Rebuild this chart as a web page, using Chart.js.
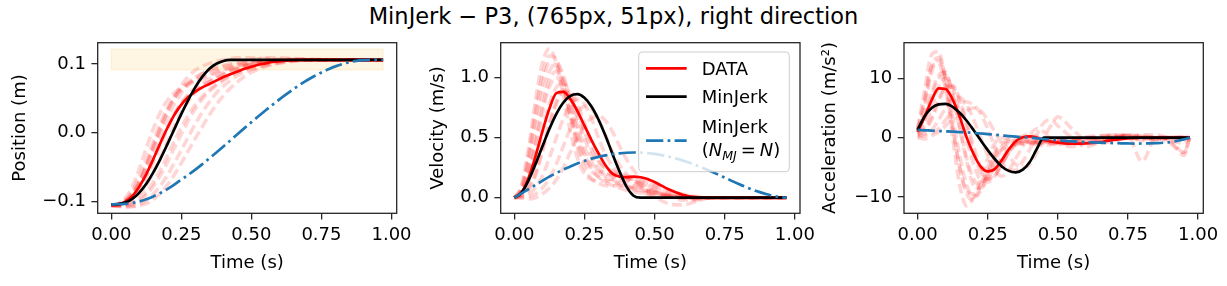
<!DOCTYPE html>
<html><head><meta charset="utf-8">
<script src="https://cdn.jsdelivr.net/npm/chart.js@4.4.1/dist/chart.umd.min.js"></script>
<style>
html,body{margin:0;padding:0;background:#fff;}
#wrap{position:relative;width:1227px;height:286px;overflow:hidden;background:#fff;}
#title{position:absolute;left:0;top:5px;width:1227px;text-align:center;font-family:'DejaVu Sans',sans-serif;font-size:22.5px;line-height:22px;color:#000;white-space:nowrap;}
canvas{position:absolute;}
</style></head><body>
<div id="wrap">
<div id="title">MinJerk − P3, (765px, 51px), right direction</div>
<canvas id="c1" width="420" height="256" style="left:0;top:30px"></canvas>
<canvas id="c2" width="410" height="256" style="left:415px;top:30px"></canvas>
<canvas id="c3" width="412" height="256" style="left:815px;top:30px"></canvas>
</div>
<script>
// ---------- data ----------
const t = [0,0.025,0.05,0.075,0.1,0.125,0.15,0.175,0.2,0.225,0.25,0.275,0.3,0.325,0.35,0.375,0.4,0.425,0.45,0.475,0.5,0.525,0.55,0.575,0.6,0.625,0.65,0.675,0.7,0.725,0.75,0.775,0.8,0.825,0.85,0.875,0.9,0.925,0.95,0.97];
const t2 = [0,0.025,0.05,0.075,0.1,0.125,0.15,0.175,0.2,0.225,0.25,0.275,0.3,0.325,0.35,0.375,0.4,0.425,0.45,0.475,0.5,0.55,0.6,0.65,0.7,0.75,0.8,0.85,0.9,0.95,0.97];

const xTicks = [0, 0.25, 0.5, 0.75, 1.0];
const posTicks = [-0.1, 0.0, 0.1];
const velTicks = [0.0, 0.5, 1.0];
const accTicks = [-10, 0, 10];

const targetBand = [0.0915, 0.1217];
const bandTime = [0, 0.97];

const posData = [-0.105,-0.104,-0.1,-0.092,-0.078,-0.06,-0.038,-0.015,0.007,0.026,0.041,0.052,0.06,0.066,0.071,0.076,0.081,0.085,0.089,0.093,0.096,0.099,0.101,0.103,0.104,0.105,0.1055,0.106,0.106,0.106,0.106,0.106,0.106,0.106,0.106,0.106,0.106,0.106,0.106,0.106];
const posMJ = [-0.104,-0.1036,-0.1014,-0.0961,-0.087,-0.074,-0.0575,-0.0382,-0.0168,0.0054,0.0275,0.048,0.0664,0.0816,0.0932,0.1004,0.1045,0.1059,0.106,0.106,0.106,0.106,0.106,0.106,0.106,0.106,0.106,0.106,0.106,0.106,0.106,0.106,0.106,0.106,0.106,0.106,0.106,0.106,0.106,0.106];
const posMJN = [-0.104,-0.1038,-0.1032,-0.102,-0.0998,-0.0966,-0.0925,-0.0875,-0.0818,-0.0752,-0.068,-0.061,-0.0535,-0.0455,-0.037,-0.0285,-0.0198,-0.011,-0.002,0.0068,0.0155,0.024,0.0324,0.0406,0.0486,0.0563,0.0636,0.0704,0.0768,0.0826,0.0878,0.0925,0.0966,0.1,0.1027,0.1046,0.1057,0.1062,0.1064,0.1064];

const velData = [0,0.04,0.16,0.34,0.55,0.74,0.87,0.88,0.82,0.72,0.6,0.48,0.37,0.27,0.2,0.175,0.17,0.175,0.17,0.155,0.13,0.1,0.07,0.045,0.025,0.012,0.005,0.002,0.001,0,0,0,0,0,0,0,0,0,0,0];
const velMJ = [0,0.04,0.14,0.276,0.4255,0.571,0.697,0.792,0.848,0.862,0.831,0.759,0.651,0.515,0.364,0.219,0.092,0.016,0,0,0,0,0,0,0,0,0,0,0,0,0,0,0,0,0,0,0,0,0,0];
const velMJN = [0,0.035,0.07,0.105,0.14,0.175,0.205,0.235,0.26,0.285,0.305,0.325,0.34,0.352,0.362,0.369,0.374,0.376,0.375,0.371,0.364,0.354,0.342,0.327,0.31,0.29,0.268,0.245,0.22,0.194,0.167,0.14,0.114,0.089,0.066,0.046,0.028,0.014,0.004,0];

const accData = [1.0,3.5,6.3,8.3,8.2,6.4,3.5,0,-2.8,-4.9,-5.7,-5.3,-3.8,-2.0,-0.6,0.05,0.2,0,-0.4,-0.65,-0.85,-0.95,-1.0,-1.0,-0.95,-0.87,-0.75,-0.55,-0.4,-0.25,-0.12,-0.05,0,0,0,0,0,0,0,0];
const accMJ = [1.3,3.6,5.0,5.6,5.7,5.2,4.2,2.85,1.25,-0.45,-2.1,-3.6,-4.85,-5.6,-5.85,-5.4,-4.1,-1.9,0,0,0,0,0,0,0,0,0,0,0,0,0,0,0,0,0,0,0,0,0,0];
const accMJN = [1.3,1.24,1.18,1.12,1.06,1.0,0.94,0.88,0.8,0.7,0.6,0.48,0.37,0.26,0.16,0.07,0,-0.11,-0.23,-0.35,-0.45,-0.55,-0.63,-0.7,-0.76,-0.8,-0.84,-0.88,-0.92,-0.95,-0.98,-1.0,-0.99,-0.96,-0.92,-0.86,-0.75,-0.55,-0.3,0];

// individual trials (faint dashed), sampled on t2
const posTrial1 = [-0.105,-0.103,-0.095,-0.078,-0.052,-0.022,0.006,0.03,0.047,0.058,0.066,0.072,0.077,0.081,0.085,0.089,0.092,0.095,0.098,0.1,0.102,0.104,0.105,0.106,0.106,0.106,0.106,0.106,0.106,0.106,0.106];
const posTrial2 = [-0.105,-0.104,-0.098,-0.085,-0.064,-0.038,-0.012,0.014,0.036,0.052,0.063,0.07,0.075,0.079,0.083,0.087,0.091,0.094,0.097,0.099,0.101,0.104,0.106,0.107,0.107,0.107,0.106,0.106,0.106,0.106,0.106];
const posTrial3 = [-0.106,-0.105,-0.1,-0.09,-0.073,-0.05,-0.025,-0.001,0.022,0.042,0.058,0.07,0.079,0.086,0.091,0.095,0.098,0.1,0.102,0.104,0.106,0.109,0.109,0.108,0.107,0.106,0.106,0.106,0.106,0.106,0.106];
const posTrial4 = [-0.105,-0.105,-0.102,-0.095,-0.082,-0.064,-0.042,-0.018,0.005,0.026,0.043,0.056,0.065,0.072,0.078,0.083,0.088,0.092,0.095,0.098,0.1,0.103,0.105,0.106,0.106,0.106,0.106,0.106,0.106,0.106,0.106];
const posTrial5 = [-0.106,-0.106,-0.104,-0.099,-0.09,-0.076,-0.058,-0.036,-0.013,0.01,0.03,0.046,0.058,0.067,0.074,0.08,0.085,0.089,0.093,0.096,0.099,0.103,0.105,0.106,0.106,0.106,0.106,0.106,0.106,0.106,0.106];
const posTrial6 = [-0.105,-0.106,-0.106,-0.104,-0.099,-0.09,-0.078,-0.062,-0.043,-0.022,-0.002,0.018,0.035,0.049,0.06,0.069,0.076,0.082,0.087,0.091,0.094,0.099,0.103,0.105,0.106,0.106,0.106,0.106,0.106,0.106,0.106];
const posTrial7 = [-0.106,-0.107,-0.108,-0.107,-0.104,-0.098,-0.089,-0.077,-0.062,-0.044,-0.025,-0.006,0.013,0.03,0.045,0.058,0.068,0.076,0.083,0.088,0.092,0.098,0.102,0.105,0.106,0.106,0.106,0.106,0.106,0.106,0.106];
const posTrial8 = [-0.105,-0.106,-0.107,-0.107,-0.106,-0.103,-0.097,-0.088,-0.076,-0.061,-0.044,-0.026,-0.008,0.009,0.026,0.041,0.054,0.065,0.074,0.082,0.088,0.096,0.101,0.104,0.106,0.106,0.106,0.106,0.106,0.106,0.106];
const posTrial9 = [-0.105,-0.104,-0.099,-0.088,-0.07,-0.046,-0.019,0.008,0.032,0.05,0.064,0.074,0.081,0.086,0.09,0.093,0.096,0.098,0.1,0.102,0.103,0.105,0.106,0.106,0.106,0.106,0.106,0.106,0.106,0.106,0.106];
const posTrial10 = [-0.105,-0.105,-0.101,-0.093,-0.079,-0.06,-0.037,-0.013,0.009,0.028,0.043,0.054,0.062,0.068,0.074,0.079,0.084,0.089,0.093,0.097,0.1,0.104,0.106,0.107,0.106,0.106,0.106,0.106,0.106,0.106,0.106];
const posTrial11 = [-0.106,-0.106,-0.105,-0.102,-0.096,-0.086,-0.072,-0.054,-0.033,-0.012,0.008,0.026,0.041,0.053,0.063,0.071,0.078,0.084,0.089,0.093,0.096,0.101,0.104,0.106,0.106,0.106,0.106,0.106,0.106,0.106,0.106];
const posTrial12 = [-0.105,-0.104,-0.1,-0.09,-0.072,-0.048,-0.022,0.005,0.03,0.052,0.069,0.082,0.091,0.097,0.101,0.104,0.106,0.108,0.109,0.109,0.109,0.108,0.107,0.106,0.106,0.106,0.106,0.106,0.106,0.106,0.106];

const velTrial1 = [0,0.1,0.4,0.8,1.12,1.24,1.12,0.85,0.55,0.33,0.2,0.15,0.14,0.14,0.13,0.11,0.09,0.07,0.05,0.03,0.02,0.005,0,0,0,0,0,0,0,0,0];
const velTrial2 = [0,0.07,0.3,0.65,0.95,1.12,1.1,0.92,0.68,0.45,0.3,0.22,0.18,0.16,0.15,0.14,0.12,0.1,0.08,0.06,0.04,0.015,0.005,0,0,0,0,0,0,0,0];
const velTrial3 = [0,0.05,0.2,0.45,0.75,0.98,1.05,0.98,0.8,0.6,0.42,0.3,0.22,0.18,0.15,0.12,0.1,0.08,0.06,0.05,0.04,0.02,0.01,0,0,0,0,0,0,0,0];
const velTrial4 = [0,0.03,0.12,0.3,0.55,0.78,0.92,0.95,0.85,0.68,0.5,0.35,0.25,0.2,0.18,0.17,0.15,0.12,0.09,0.06,0.04,0.01,0,0,0,0,0,0,0,0,0];
const velTrial5 = [0,0.02,0.06,0.18,0.38,0.6,0.78,0.88,0.88,0.78,0.62,0.45,0.32,0.23,0.18,0.16,0.15,0.14,0.12,0.1,0.07,0.03,0.01,0,0,0,0,0,0,0,0];
const velTrial6 = [0,0.01,0.03,0.08,0.18,0.33,0.5,0.66,0.78,0.82,0.78,0.66,0.5,0.36,0.26,0.2,0.17,0.15,0.13,0.1,0.07,0.02,-0.02,-0.01,0,0,0,0,0,0,0];
const velTrial7 = [0,0,0.01,0.03,0.08,0.16,0.28,0.43,0.58,0.7,0.76,0.74,0.65,0.52,0.38,0.27,0.2,0.15,0.1,0.05,0.01,-0.05,-0.06,-0.03,0,0,0,0,0,0,0];
const velTrial8 = [0,0,-0.01,0,0.03,0.08,0.15,0.25,0.38,0.5,0.6,0.66,0.68,0.64,0.55,0.43,0.32,0.23,0.17,0.13,0.1,0.05,0.01,0,0,0,0,0,0,0,0];
const velTrial9 = [0,0.08,0.35,0.72,1.02,1.18,1.15,0.95,0.68,0.42,0.25,0.16,0.12,0.1,0.1,0.1,0.09,0.08,0.07,0.06,0.05,0.02,0.005,0,0,0,0,0,0,0,0];
const velTrial10 = [0,0.04,0.18,0.42,0.7,0.92,1.0,0.9,0.7,0.5,0.35,0.26,0.22,0.21,0.2,0.19,0.17,0.14,0.11,0.08,0.05,0.02,0,-0.02,0,0,0,0,0,0,0];
const velTrial11 = [0,0.02,0.08,0.2,0.4,0.62,0.8,0.9,0.86,0.72,0.55,0.4,0.3,0.25,0.22,0.2,0.18,0.16,0.14,0.12,0.1,0.06,0.03,0.01,0,0,0,0,0,0,0];
const velTrial12 = [0,0.06,0.25,0.55,0.85,1.05,1.12,1.02,0.8,0.55,0.36,0.24,0.17,0.13,0.1,0.08,0.06,0.05,0.04,0.03,0.02,0.01,0,0,0,0,0,0,0,0,0];

const accTrial1 = [1.5,8,14,14.5,9,0,-8,-11.5,-10,-7,-3.5,-1,0,-0.2,-0.6,-1,-1,-0.8,-0.6,-0.5,-0.3,-0.1,0,0,0,0,0,0,0,0,0];
const accTrial2 = [1,5,11,13,10,3.5,-3,-8,-10,-9,-6,-3,-1.5,-0.6,-0.5,-0.6,-0.8,-0.8,-0.8,-0.7,-0.6,-0.3,0.1,0.3,0.2,0,-0.3,0,0,0,0];
const accTrial3 = [1.2,3.5,7.5,10.5,11,7,1.5,-4,-8,-8.5,-7,-5,-3.5,-2,-1.2,-1,-0.9,-0.8,-0.6,-0.5,-0.4,-0.3,-0.2,0.3,0.5,0.2,-0.2,0,0,0,0];
const accTrial4 = [0.8,2,5,8.5,10,8.5,4,-0.5,-4.5,-7,-7,-6,-4.5,-2.5,-1,0,0,-0.6,-1,-1,-0.9,-0.6,-0.3,0,0.5,0.3,-0.5,-0.3,0,0,0];
const accTrial5 = [0.5,1.2,3,6,8.5,8.8,6.5,2.5,-1.5,-5,-7,-6.5,-4.5,-2.5,-0.8,0.3,0.5,0.2,-0.6,-0.9,-1,-1.1,-0.7,-0.2,0.3,0.2,-4,0,0,0,0];
const accTrial6 = [0.3,0.6,1.2,3,5,6.5,6.8,5.5,3,0,-3,-5.5,-6.5,-5.5,-3.5,-1.5,0.5,1.5,1,-0.3,-1,-1.5,-1,-0.3,0.2,0.5,0.2,-0.2,-0.5,-2.5,0];
const accTrial7 = [0.2,0.3,0.8,1.5,3,4.5,5.5,6,5.5,4,1.5,-1.5,-4,-5.5,-5.5,-4,-2,0.5,2.5,3,2,0,-1.5,-0.8,0,0.4,0.3,0,-0.5,-3,0];
const accTrial8 = [0,-0.2,0.3,1,2,3,3.5,4.5,5,4.5,3,1,-1,-3,-4.5,-5,-4.5,-2.5,0,2,3.5,1.5,-0.5,-1,-0.5,0,0.5,0.5,-0.3,-1,0];
const accTrial9 = [1.2,6,12,13.5,10,2,-5,-9.5,-10.5,-8,-5,-2.5,-1,-0.3,0,0,-0.3,-0.4,-0.4,-0.4,-0.4,-0.3,-0.1,0,0,0,0,0,0,0,0];
const accTrial10 = [0.8,3,7,10,10.5,7.5,2,-3.5,-7,-8,-6.5,-4,-2,-0.8,-0.4,-0.5,-0.9,-1.2,-1.3,-1.2,-1.1,-0.8,-0.5,-0.3,0,0.3,0.2,0,0,0,0];
const accTrial11 = [0.5,1.5,3.5,6.5,8.5,8.5,6,2,-2.5,-6,-7.5,-6.5,-4.5,-2.5,-1.2,-0.6,-0.6,-0.8,-0.8,-0.8,-0.8,-1,-0.8,-0.4,0,0.3,0,-0.3,0,0,0];
const accTrial12 = [1.5,6.5,12,12.5,8,1.5,-5,-9,-9.5,-8,-6,-3.5,-2,-1.3,-1,-0.9,-0.7,-0.5,-0.4,-0.4,-0.4,-0.3,-0.1,0,0,0,0,0,-1,-2.5,0];

const posTrials = [posTrial1,posTrial2,posTrial3,posTrial4,posTrial5,posTrial6,posTrial7,posTrial8,posTrial9,posTrial10,posTrial11,posTrial12];
const velTrials = [velTrial1,velTrial2,velTrial3,velTrial4,velTrial5,velTrial6,velTrial7,velTrial8,velTrial9,velTrial10,velTrial11,velTrial12];
const accTrials = [accTrial1,accTrial2,accTrial3,accTrial4,accTrial5,accTrial6,accTrial7,accTrial8,accTrial9,accTrial10,accTrial11,accTrial12];

// ---------- styling / helpers ----------
Chart.defaults.font.family = "'DejaVu Sans', sans-serif";
Chart.defaults.font.size = 18;
Chart.defaults.color = '#000';

const SPINE = '#262626';
const RED = '#ff0000', BLACK = '#000000', BLUE = '#1f77b4';
const LW = 2.7;
const DASHDOT = [17.3, 4.3, 2.7, 4.3];
const X_MIN = -0.0485, X_MAX = 1.0185;

const fmt = (v, d) => (Math.abs(v) < 1e-9 ? (0).toFixed(d) : v.toFixed(d)).replace('-', '\u2212');
const pts = (xs, ys) => xs.map((x, i) => ({x: x, y: ys[i]}));

function mainSets(dataY, mjY, mjnY) {
  return [
    {data: pts(t, mjnY), borderColor: BLUE, borderWidth: LW, borderDash: DASHDOT, order: 0},
    {data: pts(t, mjY), borderColor: BLACK, borderWidth: LW, order: 1},
    {data: pts(t, dataY), borderColor: RED, borderWidth: LW, order: 2}
  ];
}
function trialSets(trials) {
  return trials.map((ys, k) => ({data: pts(t2, ys), borderColor: 'rgba(255,0,0,0.16)', borderWidth: 3.6, borderDash: [10, 4.5], order: 10 + k}));
}

const framePlugin = {
  id: 'frame',
  afterDatasetsDraw(chart) {
    const a = chart.chartArea, ctx = chart.ctx;
    ctx.save();
    ctx.strokeStyle = SPINE; ctx.lineWidth = 1.3;
    ctx.strokeRect(a.left, a.top, a.right - a.left, a.bottom - a.top);
    ctx.restore();
  }
};

const bandPlugin = {
  id: 'band',
  beforeDatasetsDraw(chart) {
    const xs = chart.scales.x, ys = chart.scales.y, ctx = chart.ctx;
    const x0 = xs.getPixelForValue(bandTime[0]), x1 = xs.getPixelForValue(bandTime[1]);
    const y0 = ys.getPixelForValue(targetBand[1]), y1 = ys.getPixelForValue(targetBand[0]);
    ctx.save();
    ctx.fillStyle = 'rgba(255,165,0,0.11)';
    ctx.fillRect(x0, y0, x1 - x0, y1 - y0);
    ctx.strokeStyle = 'rgba(255,165,0,0.16)'; ctx.lineWidth = 1;
    ctx.strokeRect(x0, y0, x1 - x0, y1 - y0);
    ctx.restore();
  }
};

const legendPlugin = {
  id: 'mplLegend',
  afterDraw(chart) {
    const a = chart.chartArea, ctx = chart.ctx;
    const w = 150.6, h = 119.7;
    const L = a.right - 10.7 - w, T = a.top + 9.3;
    ctx.save();
    const r = 3.6;
    ctx.beginPath();
    ctx.moveTo(L + r, T); ctx.lineTo(L + w - r, T); ctx.quadraticCurveTo(L + w, T, L + w, T + r);
    ctx.lineTo(L + w, T + h - r); ctx.quadraticCurveTo(L + w, T + h, L + w - r, T + h);
    ctx.lineTo(L + r, T + h); ctx.quadraticCurveTo(L, T + h, L, T + h - r);
    ctx.lineTo(L, T + r); ctx.quadraticCurveTo(L, T, L + r, T);
    ctx.closePath();
    ctx.fillStyle = 'rgba(255,255,255,0.8)'; ctx.fill();
    ctx.strokeStyle = '#cccccc'; ctx.lineWidth = 1; ctx.stroke();
    const sx0 = L + 7.3, sx1 = L + 48;
    const drawSample = (y, color, dash) => {
      ctx.beginPath(); ctx.setLineDash(dash); ctx.strokeStyle = color; ctx.lineWidth = LW;
      ctx.moveTo(sx0, y); ctx.lineTo(sx1, y); ctx.stroke(); ctx.setLineDash([]);
    };
    drawSample(T + 16.3, RED, []);
    drawSample(T + 44.7, BLACK, []);
    drawSample(T + 88.7, BLUE, DASHDOT);
    const tx = L + 63;
    ctx.fillStyle = '#000'; ctx.textBaseline = 'alphabetic'; ctx.textAlign = 'left';
    const normal = "18px 'DejaVu Sans'", ital = "italic 18px 'DejaVu Sans'", sub = "italic 12.6px 'DejaVu Sans'";
    ctx.font = normal;
    ctx.fillText('DATA', tx, T + 23.3);
    ctx.fillText('MinJerk', tx, T + 51.3);
    ctx.fillText('MinJerk', tx, T + 81.3);
    let x = tx; const by = T + 104;
    const seg = (s, f, dy) => { ctx.font = f; ctx.fillText(s, x, by + (dy || 0)); x += ctx.measureText(s).width; };
    seg('(', normal); seg('N', ital); seg('MJ', sub, 3.8); x += 4; seg('=', normal); x += 4; seg('N', ital); seg(')', normal);
    ctx.restore();
  }
};

function panel(id, o) {
  const cv = document.getElementById(id);
  const W = cv.width, H = cv.height;
  return new Chart(cv, {
    type: 'line',
    data: {datasets: o.datasets},
    options: {
      responsive: false, animation: false, devicePixelRatio: 1,
      layout: {padding: {left: 0, top: o.area.top, right: W - o.area.right, bottom: 0}},
      plugins: {legend: {display: false}, tooltip: {enabled: false}, title: {display: false}},
      elements: {point: {radius: 0}, line: {cubicInterpolationMode: 'monotone', fill: false, borderCapStyle: 'butt'}},
      scales: {
        x: {
          type: 'linear', position: 'bottom', min: X_MIN, max: X_MAX, bounds: 'data',
          afterBuildTicks: s => { s.ticks = xTicks.map(v => ({value: v})); },
          afterFit: s => { s.height = H - o.area.bottom; s.paddingLeft = 0; s.paddingRight = 0; },
          ticks: {callback: v => fmt(v, 2), color: '#000', font: {size: 18}, padding: 4.6, maxRotation: 0, autoSkip: false},
          grid: {drawOnChartArea: false, drawTicks: true, tickLength: 6.3, color: SPINE, lineWidth: 1.3},
          border: {display: false},
          title: {display: true, text: 'Time (s)', color: '#000', font: {size: 18}, padding: {top: 0, bottom: 11.4}}
        },
        y: {
          type: 'linear', position: 'left', min: o.yMin, max: o.yMax, bounds: 'data',
          afterBuildTicks: s => { s.ticks = o.yTicks.map(v => ({value: v})); },
          afterFit: s => { s.width = o.area.left; s.paddingTop = 0; s.paddingBottom = 0; },
          ticks: {callback: v => fmt(v, o.yDec), color: '#000', font: {size: 18}, padding: 5.5, autoSkip: false},
          grid: {drawOnChartArea: false, drawTicks: true, tickLength: 6.3, color: SPINE, lineWidth: 1.3},
          border: {display: false},
          title: {display: true, text: o.yTitle, color: '#000', font: {size: 18}, padding: {top: o.yTitlePad, bottom: 0}}
        }
      }
    },
    plugins: [framePlugin].concat(o.plugins || [])
  });
}

panel('c1', {
  area: {left: 97.7, right: 396.7, top: 12.7, bottom: 183.3},
  yMin: -0.117, yMax: 0.131, yTicks: posTicks, yDec: 1,
  yTitle: 'Position (m)', yTitlePad: 9.9,
  datasets: mainSets(posData, posMJ, posMJN).concat(trialSets(posTrials)),
  plugins: [bandPlugin]
});
panel('c2', {
  area: {left: 85.7, right: 385, top: 12.7, bottom: 183.3},
  yMin: -0.13, yMax: 1.29, yTicks: velTicks, yDec: 1,
  yTitle: 'Velocity (m/s)', yTitlePad: 12.5,
  datasets: mainSets(velData, velMJ, velMJN).concat(trialSets(velTrials)),
  plugins: [legendPlugin]
});
panel('c3', {
  area: {left: 89, right: 388.3, top: 12.7, bottom: 183.3},
  yMin: -12.75, yMax: 16.0, yTicks: accTicks, yDec: 0,
  yTitle: 'Acceleration (m/s\u00B2)', yTitlePad: 4.9,
  datasets: mainSets(accData, accMJ, accMJN).concat(trialSets(accTrials))
});
</script>
</body></html>
